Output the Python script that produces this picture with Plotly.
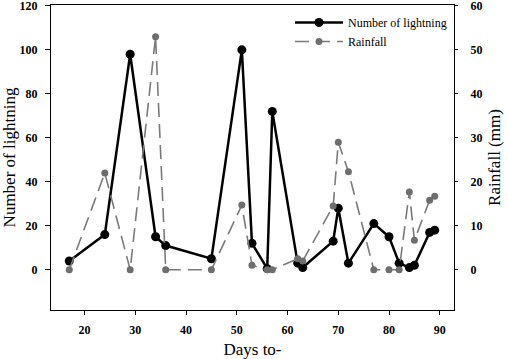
import plotly.graph_objects as go

light_days = [17, 24, 29, 34, 36, 45, 51, 53, 56, 57, 62, 63, 69, 70, 72, 77, 80, 82, 84, 85, 88, 89]
lightning = [4, 16, 98, 15, 11, 5, 100, 12, 0.5, 72, 3, 1, 13, 28, 3, 21, 15, 3, 1, 2, 17, 18]

rain_days = [17, 24, 29, 34, 36, 45, 51, 53, 56, 57, 62, 63, 69, 70, 72, 77, 80, 82, 84, 85, 88, 89]
rainfall = [0, 22, 0, 53, 0, 0, 14.7, 1, 0, 0, 2.5, 2, 14.5, 29, 22.3, 0, 0, 0, 17.7, 6.7, 15.8, 16.7]

x_ticks = [20, 30, 40, 50, 60, 70, 80, 90]
left_ticks = [0, 20, 40, 60, 80, 100, 120]
right_ticks = [0, 10, 20, 30, 40, 50, 60]

serif = "Liberation Serif, Times New Roman, serif"

fig = go.Figure()
fig.add_trace(go.Scatter(
    x=light_days, y=lightning, name="Number of lightning",
    mode="lines+markers",
    line=dict(color="black", width=2.5),
    marker=dict(color="black", size=9),
    yaxis="y",
))
fig.add_trace(go.Scatter(
    x=rain_days, y=rainfall, name="Rainfall",
    mode="lines+markers",
    line=dict(color="#7a7a7a", width=1.6, dash="14px,7px"),
    marker=dict(color="#6e6e6e", size=7),
    yaxis="y2",
))

tickfont = dict(family=serif, size=12, color="black", weight="bold")
fig.update_layout(
    width=508, height=359,
    margin=dict(l=51, r=54, t=5, b=49),
    paper_bgcolor="white", plot_bgcolor="white",
    showlegend=True,
    legend=dict(
        x=0.995, y=0.99, xanchor="right", yanchor="top",
        font=dict(family=serif, size=12, color="black"),
        bgcolor="rgba(0,0,0,0)", borderwidth=0,
        tracegroupgap=0, itemwidth=48,
    ),
    xaxis=dict(
        range=[13.4, 92.8], tickvals=x_ticks, automargin=False,
        ticks="outside", ticklen=4, tickwidth=1, tickcolor="black",
        showline=True, linecolor="black", linewidth=1.2, mirror=True,
        showgrid=False, zeroline=False, ticklabeloverflow="allow",
        ticklabelstandoff=4,
        tickfont=tickfont,
        title=dict(text="Days to-", font=dict(family=serif, size=17, color="black"), standoff=8),
    ),
    yaxis=dict(
        range=[-18.3, 120.4], tickvals=left_ticks, automargin=False,
        ticks="outside", ticklen=5, tickwidth=1, tickcolor="black",
        showline=True, linecolor="black", linewidth=1.2,
        showgrid=False, zeroline=False, ticklabeloverflow="allow",
        ticklabelstandoff=5,
        tickfont=tickfont,
        title=dict(text="Number of lightning", font=dict(family=serif, size=17, color="black"), standoff=4),
    ),
    yaxis2=dict(
        range=[-9.15, 60.2], tickvals=right_ticks, automargin=False,
        overlaying="y", side="right",
        ticks="outside", ticklen=3, tickwidth=1, tickcolor="black",
        showline=True, linecolor="black", linewidth=1.2,
        showgrid=False, zeroline=False, ticklabeloverflow="allow",
        ticklabelstandoff=10,
        tickfont=tickfont,
        title=dict(text="Rainfall (mm)", font=dict(family=serif, size=17, color="black"), standoff=6),
    ),
)

fig.write_html("out.html", config={"displayModeBar": False},
               post_script="document.body.style.margin='0';document.body.style.overflow='hidden';")
